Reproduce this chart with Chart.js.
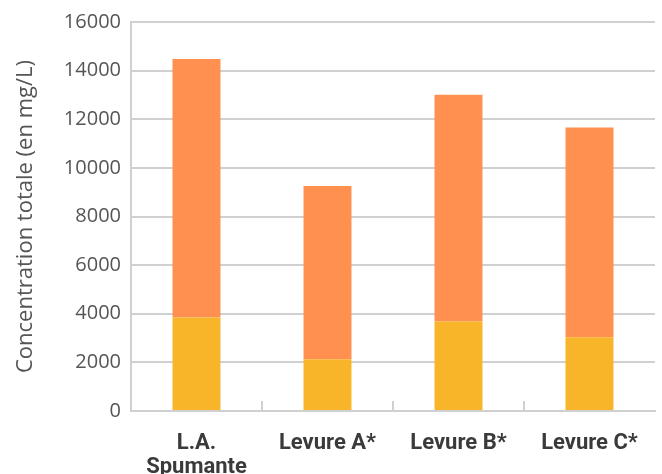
<!DOCTYPE html>
<html>
<head>
<meta charset="utf-8">
<script src="https://cdn.jsdelivr.net/npm/chart.js@4/dist/chart.umd.min.js"></script>
<style>
  html, body { margin: 0; padding: 0; background: #fff; }
  #wrap { width: 662px; height: 474px; }
</style>
</head>
<body>
<div id="wrap"><canvas id="c" width="662" height="474"></canvas></div>
<script>
// Categories and stacked concentrations (mg/L)
const categories = [["L.A.", "Spumante"], "Levure A*", "Levure B*", "Levure C*"];
const baseValues = [3850, 2130, 3680, 3030];          // lower (yellow) segment
const totalValues = [14480, 9250, 13010, 11660];      // full bar height
const upperValues = totalValues.map((t, i) => t - baseValues[i]); // upper (orange) segment
const yTicks = [0, 2000, 4000, 6000, 8000, 10000, 12000, 14000, 16000];

const GRID = '#d0d0d0';

// Short upward tick marks between categories on the x axis
const categoryTicks = {
  id: 'categoryTicks',
  afterDraw(chart) {
    const x = chart.scales.x;
    const ctx = chart.ctx;
    const bottom = chart.chartArea.bottom;
    ctx.save();
    ctx.strokeStyle = GRID;
    ctx.lineWidth = 2;
    for (let i = 1; i < categories.length; i++) {
      const px = Math.round((x.getPixelForTick(i - 1) + x.getPixelForTick(i)) / 2);
      ctx.beginPath();
      ctx.moveTo(px, bottom);
      ctx.lineTo(px, bottom - 10);
      ctx.stroke();
    }
    ctx.restore();
  }
};

new Chart(document.getElementById('c'), {
  type: 'bar',
  data: {
    labels: categories,
    datasets: [
      { label: 'base', data: baseValues, backgroundColor: '#F8B52A', borderWidth: 0,
        categoryPercentage: 1, barPercentage: 0.366 },
      { label: 'complément', data: upperValues, backgroundColor: '#FF9050', borderWidth: 0,
        categoryPercentage: 1, barPercentage: 0.366 }
    ]
  },
  options: {
    responsive: false,
    animation: false,
    devicePixelRatio: 1,
    layout: { padding: { top: 20, right: 7, bottom: 0, left: 0 } },
    plugins: { legend: { display: false }, tooltip: { enabled: false } },
    scales: {
      x: {
        stacked: true,
        grid: { display: false },
        border: { display: true, color: GRID, width: 2 },
        ticks: {
          color: '#3a3a3a',
          padding: 12,
          maxRotation: 0,
          font: { family: 'Roboto, "DejaVu Sans Condensed", sans-serif', size: 22, weight: 'bold', lineHeight: 1.12 }
        },
        afterFit(scale) { scale.height = 63; }
      },
      y: {
        stacked: true,
        min: 0,
        max: 16000,
        afterBuildTicks(scale) { scale.ticks = yTicks.map(v => ({ value: v })); },
        grid: { color: GRID, lineWidth: 2, drawTicks: false },
        border: { display: true, color: GRID, width: 2 },
        ticks: {
          color: '#555',
          padding: 10,
          callback: v => String(v),
          font: { family: '"Open Sans", sans-serif', size: 20 }
        },
        title: {
          display: true,
          text: 'Concentration totale (en mg/L)',
          color: '#555',
          padding: { top: 13, bottom: 0 },
          font: { family: '"Open Sans", sans-serif', size: 22 }
        },
        afterFit(scale) { scale.width = 131; }
      }
    }
  },
  plugins: [categoryTicks]
});
</script>
</body>
</html>
